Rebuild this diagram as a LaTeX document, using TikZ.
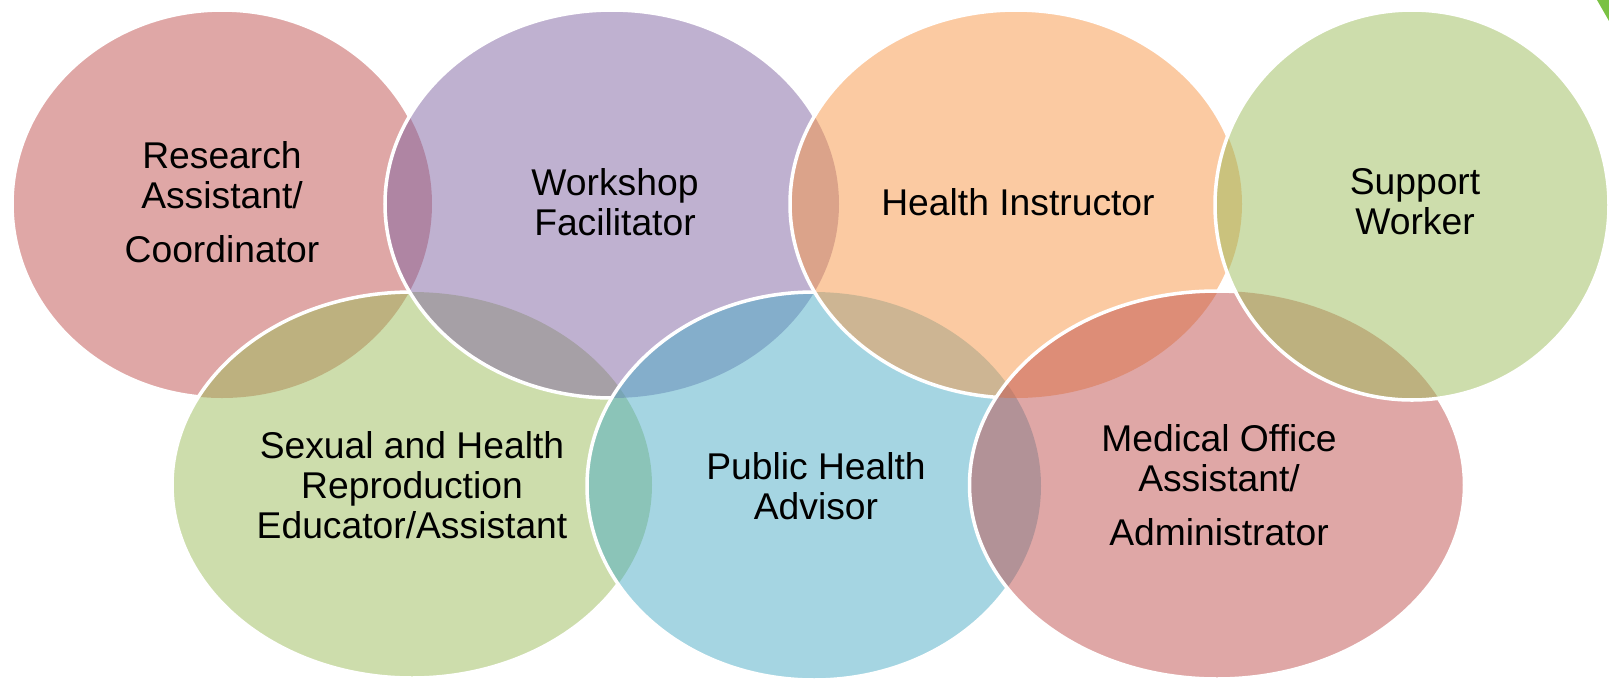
\documentclass[tikz,border=0pt]{standalone}
\usepackage{fontspec}
\setmainfont{Liberation Sans}
\usepackage{tikz}

\definecolor{vennRed}{HTML}{C0504D}
\definecolor{vennPurple}{HTML}{8064A2}
\definecolor{vennOrange}{HTML}{F79646}
\definecolor{vennGreen}{HTML}{9BBB59}
\definecolor{vennBlue}{HTML}{4BACC6}
\definecolor{cornerGreen}{HTML}{7AC143}

\def\ovResearch{(222,204) ellipse [x radius=21mm, y radius=19.4mm]}
\def\ovWorkshop{(612,204) ellipse [x radius=22.7mm, y radius=19.4mm]}
\def\ovInstructor{(1016,204) ellipse [x radius=22.6mm, y radius=19.4mm]}
\def\ovSupport{(1412,205) ellipse [x radius=19.7mm, y radius=19.5mm]}
\def\ovSexual{(412,485) ellipse [x radius=24mm, y radius=19.3mm]}
\def\ovPublic{(814,486) ellipse [x radius=22.7mm, y radius=19.4mm]}
\def\ovMedical{(1217,485) ellipse [x radius=24.75mm, y radius=19.4mm]}
\def\outside{(-50,-50) rectangle (1700,750)}

\begin{document}
\begin{tikzpicture}[x=0.1mm, y=-0.1mm,
                    venn/.style={fill=#1, fill opacity=0.5},
                    rim/.style={draw=white, line width=1pt},
                    role/.style={font=\fontsize{10.6}{11.3}\selectfont, align=center, inner sep=0pt}]

  \useasboundingbox (0,0) rectangle (1609,680);

  % fills, back to front
  \fill[venn=vennRed] \ovResearch;
  \fill[venn=vennGreen] \ovSexual;
  \fill[venn=vennPurple] \ovWorkshop;
  \fill[venn=vennBlue] \ovPublic;
  \fill[venn=vennOrange] \ovInstructor;
  \fill[venn=vennRed] \ovMedical;
  \fill[venn=vennGreen] \ovSupport;

  % white rims, hidden where a later ellipse lies on top
  \begin{scope}[even odd rule]
    \clip \outside \ovSexual;
    \clip \outside \ovWorkshop;
    \draw[rim] \ovResearch;
  \end{scope}
  \begin{scope}[even odd rule]
    \clip \outside \ovWorkshop;
    \clip \outside \ovPublic;
    \draw[rim] \ovSexual;
  \end{scope}
  \begin{scope}[even odd rule]
    \clip \outside \ovPublic;
    \clip \outside \ovInstructor;
    \draw[rim] \ovWorkshop;
  \end{scope}
  \begin{scope}[even odd rule]
    \clip \outside \ovInstructor;
    \clip \outside \ovMedical;
    \draw[rim] \ovPublic;
  \end{scope}
  \begin{scope}[even odd rule]
    \clip \outside \ovMedical;
    \clip \outside \ovSupport;
    \draw[rim] \ovInstructor;
  \end{scope}
  \begin{scope}[even odd rule]
    \clip \outside \ovSupport;
    \draw[rim] \ovMedical;
  \end{scope}
  \draw[rim] \ovSupport;

  \fill[cornerGreen] (1597,0) -- (1609,0) -- (1609,21) -- cycle;

  \node[role] (research) at (222,202) {Research\\Assistant/\\[1.4mm]Coordinator};
  \node[role] (workshop) at (615,202) {Workshop\\Facilitator};
  \node[role] (instructor) at (1018,202) {Health Instructor};
  \node[role] (support) at (1415,202) {Support\\Worker};
  \node[role] (sexual) at (412,485) {Sexual and Health\\Reproduction\\Educator/Assistant};
  \node[role] (public) at (816,486) {Public Health\\Advisor};
  \node[role] (medical) at (1219,485) {Medical Office\\Assistant/\\[1.4mm]Administrator};
\end{tikzpicture}
\end{document}
